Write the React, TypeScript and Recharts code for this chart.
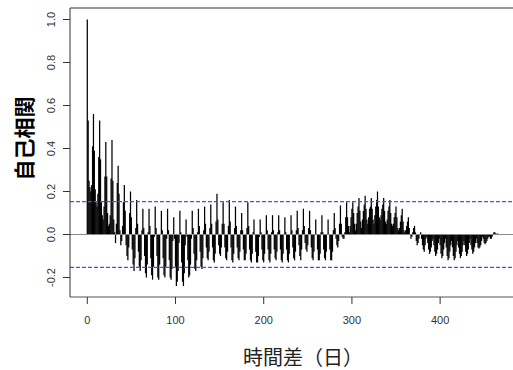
import React from 'react';
import { ComposedChart, Bar, XAxis, YAxis, ReferenceLine } from 'recharts';

// Sample autocorrelation by lag (one row = one week of lags)
const acf: number[] = [
  1.00, 0.53, 0.25, 0.22, 0.20, 0.23, 0.41,
  0.56, 0.39, 0.21, 0.15, 0.13, 0.19, 0.36,
  0.53, 0.35, 0.15, 0.09, 0.07, 0.13, 0.27,
  0.43, 0.27, 0.10, 0.04, 0.05, 0.09, 0.26,
  0.44, 0.25, 0.07, 0.01, -0.04, 0.05, 0.24,
  0.32, 0.19, 0.02, -0.05, -0.03, 0.04, 0.15,
  0.23, 0.11, -0.05, -0.10, -0.12, -0.06, 0.10,
  0.20, 0.08, -0.07, -0.14, -0.17, -0.11, 0.03,
  0.16, 0.05, -0.08, -0.15, -0.17, -0.12, 0.02,
  0.12, 0.03, -0.10, -0.18, -0.20, -0.14, 0.01,
  0.12, 0.04, -0.11, -0.19, -0.21, -0.15, -0.01,
  0.13, 0.03, -0.10, -0.20, -0.21, -0.14, 0.00,
  0.11, 0.02, -0.11, -0.19, -0.20, -0.15, -0.02,
  0.12, 0.02, -0.12, -0.20, -0.21, -0.16, -0.03,
  0.08, -0.02, -0.15, -0.24, -0.22, -0.17, -0.04,
  0.11, 0.01, -0.13, -0.22, -0.24, -0.18, -0.05,
  0.07, -0.01, -0.12, -0.20, -0.19, -0.14, -0.02,
  0.11, 0.03, -0.09, -0.16, -0.17, -0.12, 0.01,
  0.12, 0.04, -0.08, -0.15, -0.16, -0.11, 0.02,
  0.13, 0.05, -0.06, -0.11, -0.12, -0.08, 0.03,
  0.14, 0.05, -0.06, -0.12, -0.13, -0.09, 0.06,
  0.19, 0.07, -0.05, -0.09, -0.10, -0.06, 0.05,
  0.15, 0.05, -0.06, -0.11, -0.12, -0.08, 0.04,
  0.16, 0.06, -0.06, -0.12, -0.13, -0.09, 0.03,
  0.13, 0.04, -0.06, -0.11, -0.12, -0.08, 0.02,
  0.10, 0.02, -0.07, -0.12, -0.12, -0.09, 0.03,
  0.15, 0.04, -0.07, -0.12, -0.13, -0.09, 0.01,
  0.07, 0.00, -0.08, -0.13, -0.13, -0.10, -0.01,
  0.07, 0.01, -0.07, -0.12, -0.13, -0.09, 0.00,
  0.09, 0.02, -0.07, -0.12, -0.13, -0.09, 0.01,
  0.09, 0.02, -0.07, -0.11, -0.12, -0.08, 0.01,
  0.09, 0.02, -0.07, -0.12, -0.13, -0.09, 0.00,
  0.08, 0.01, -0.07, -0.12, -0.13, -0.09, 0.00,
  0.09, 0.02, -0.06, -0.11, -0.12, -0.08, 0.02,
  0.11, 0.03, -0.05, -0.10, -0.12, -0.07, 0.02,
  0.12, 0.04, -0.04, -0.07, -0.08, -0.05, 0.03,
  0.11, 0.02, -0.06, -0.11, -0.12, -0.08, 0.00,
  0.07, 0.00, -0.07, -0.12, -0.12, -0.09, 0.01,
  0.09, 0.01, -0.07, -0.11, -0.12, -0.08, 0.00,
  0.07, 0.00, -0.07, -0.12, -0.12, -0.08, 0.02,
  0.10, 0.03, -0.02, -0.05, -0.06, -0.03, 0.05,
  0.135, 0.05, -0.01, -0.02, -0.02, 0.01, 0.08,
  0.15, 0.08, 0.04, 0.01, 0.04, 0.08, 0.12,
  0.15, 0.10, 0.05, 0.02, 0.05, 0.10, 0.13,
  0.17, 0.11, 0.06, 0.03, 0.07, 0.11, 0.14,
  0.18, 0.12, 0.07, 0.05, 0.08, 0.12, 0.13,
  0.17, 0.12, 0.07, 0.05, 0.09, 0.13, 0.16,
  0.20, 0.13, 0.08, 0.07, 0.09, 0.12, 0.14,
  0.17, 0.11, 0.06, 0.05, 0.07, 0.11, 0.13,
  0.16, 0.10, 0.05, 0.04, 0.05, 0.08, 0.10,
  0.13, 0.08, 0.03, 0.02, 0.03, 0.06, 0.09,
  0.12, 0.06, 0.02, 0.01, 0.02, 0.04, 0.06,
  0.08, 0.03, 0.00, -0.02, -0.01, 0.01, 0.03,
  0.04, 0.01, -0.03, -0.05, -0.04, -0.02, 0.00,
  0.01, -0.02, -0.05, -0.07, -0.08, -0.05, -0.02,
  -0.01, -0.04, -0.07, -0.09, -0.08, -0.06, -0.03,
  -0.02, -0.05, -0.08, -0.10, -0.09, -0.07, -0.04,
  -0.02, -0.05, -0.09, -0.11, -0.10, -0.07, -0.04,
  -0.02, -0.06, -0.10, -0.12, -0.11, -0.08, -0.05,
  -0.03, -0.06, -0.10, -0.12, -0.11, -0.08, -0.05,
  -0.03, -0.06, -0.09, -0.11, -0.10, -0.08, -0.05,
  -0.03, -0.05, -0.08, -0.10, -0.09, -0.07, -0.04,
  -0.02, -0.05, -0.07, -0.09, -0.08, -0.06, -0.04,
  -0.02, -0.04, -0.06, -0.065, -0.06, -0.05, -0.03,
  -0.01, -0.02, -0.04, -0.045, -0.04, -0.03, -0.02,
  -0.01, -0.01, -0.02, -0.02, -0.01, 0.00, 0.01,
  0.01, 0.005, 0.00, 0.005, 0.00, 0.00,
];

const ciBound = 0.153;
const xTicks = [0, 100, 200, 300, 400];
const yTicks = [-0.2, 0.0, 0.2, 0.4, 0.6, 0.8, 1.0];
const xDomain: [number, number] = [-19.6, 508.7];
const yDomain: [number, number] = [-0.2907, 1.0535];
const xTitle = '時間差（日）';
const yTitle = '自己相関';

const data = acf.map((v, i) => ({ lag: i, acf: v }));

const FONT = '"Liberation Sans", Arial, sans-serif';
const CJK = '"Noto Sans CJK JP", "Noto Sans CJK SC", sans-serif';

const LineBar = (props: any) => {
  const { x, y, width, height } = props;
  if (height === 0 || height == null) return null;
  const cx = x + width / 2;
  return <line x1={cx} x2={cx} y1={y} y2={y + height} stroke="#000" strokeWidth={1.25} />;
};

const YTick = (props: any) => {
  const { x, y, payload } = props;
  return (
    <text
      transform={`translate(${x},${y}) rotate(-90)`}
      textAnchor="middle"
      fontSize={11}
      fontFamily={FONT}
      fill="#333"
    >
      {Number(payload.value).toFixed(1)}
    </text>
  );
};

const YTitle = () => (
  <text
    transform="translate(32,138.5) rotate(-90)"
    textAnchor="middle"
    fontSize={21}
    fontWeight="bold"
    fontFamily={CJK}
    fill="#000"
  >
    {yTitle}
  </text>
);

export default function App() {
  return (
    <div style={{ position: 'absolute', left: 0, top: 0, width: 513, height: 370, overflow: 'hidden', background: '#fff' }}>
      <ComposedChart
        width={540}
        height={370}
        data={data}
        margin={{ top: 8, right: 4, bottom: 0, left: 0 }}
      >
        <XAxis
          dataKey="lag"
          type="number"
          domain={xDomain}
          ticks={xTicks}
          allowDataOverflow
          height={73}
          tickSize={7}
          tickMargin={12}
          tick={{ fontSize: 11, fill: '#333', fontFamily: FONT }}
          axisLine={{ stroke: '#555' }}
          tickLine={{ stroke: '#333' }}
          label={{ value: xTitle, position: 'insideBottom', offset: 5, fontSize: 20, fill: '#222', fontFamily: CJK }}
        />
        <YAxis
          type="number"
          domain={yDomain}
          ticks={yTicks}
          allowDataOverflow
          width={70}
          tickSize={7}
          tickMargin={8}
          tick={<YTick />}
          axisLine={{ stroke: '#333' }}
          tickLine={{ stroke: '#333' }}
          label={<YTitle />}
        />
        <ReferenceLine y={yDomain[1]} stroke="#333" />
        <ReferenceLine y={0} stroke="#888" />
        <ReferenceLine y={ciBound} stroke="#4d4dff" strokeWidth={1.2} strokeDasharray="4 2" />
        <ReferenceLine y={-ciBound} stroke="#4d4dff" strokeWidth={1.2} strokeDasharray="4 2" />
        <Bar dataKey="acf" shape={<LineBar />} fill="#000" isAnimationActive={false} />
      </ComposedChart>
    </div>
  );
}
